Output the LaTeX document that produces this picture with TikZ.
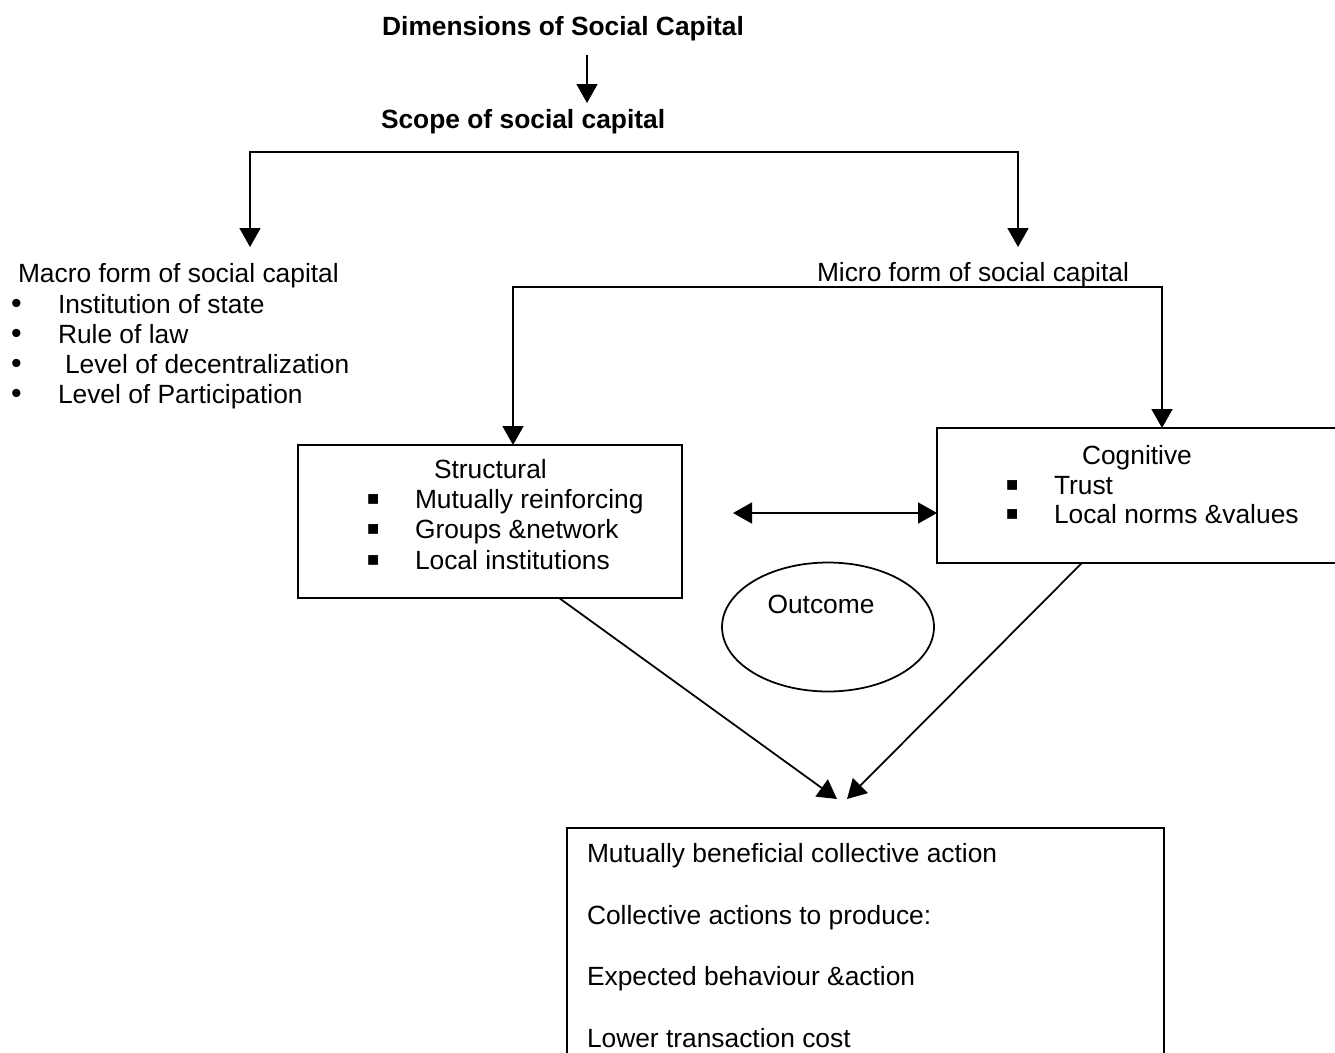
\documentclass[tikz,border=0pt]{standalone}
\usepackage{fontspec}
\setmainfont{Liberation Sans}
\usepackage{tikz}
\usetikzlibrary{arrows.meta,shapes.geometric,calc}

\newcommand{\sqbul}{\raisebox{0.06cm}{\fontsize{11.5}{12}\selectfont ■}}
\newcommand{\rdbul}{\smash{\scalebox{1.15}{•}}}

\begin{document}
\begin{tikzpicture}[x=0.02cm, y=-0.02cm,
  every node/.style={inner sep=0pt, outer sep=0pt, font=\fontsize{15}{18}\selectfont},
  txt/.style={anchor=base west},
  box/.style={draw, line width=1pt, anchor=north west},
  conn/.style={line width=1pt},
  arr/.style={conn, -{Triangle[length=0.38cm,width=0.42cm]}},
  dbl/.style={conn, {Triangle[length=0.38cm,width=0.42cm]}-{Triangle[length=0.38cm,width=0.42cm]}}]

\useasboundingbox (0,0) rectangle (1335,1052);
\clip (0,0) rectangle (1335,1052);

  % Title (top)
  \node[anchor=base, font=\fontsize{15}{18}\selectfont\bfseries] (title) at (563,35) {Dimensions of Social Capital};
  \node[txt, font=\fontsize{15}{18}\selectfont\bfseries] (scope) at (381,128) {Scope of social capital};
  \coordinate (titleA) at (587,55);
  \coordinate (titleB) at (587,103);
  \draw[arr] (titleA) -- (titleB);

  % Scope split
  \coordinate (splitL) at (250,152);
  \coordinate (splitR) at (1018,152);
  \draw[dbl] (splitL |- 0,247) -- (splitL) -- (splitR) -- (splitR |- 0,247);

  % Macro form (left)
  \node[txt] (macro) at (18,282) {Macro form of social capital};
  \node[txt] (macroB1) at (11,313) {\rdbul};
  \node[txt] (macroB2) at (11,343) {\rdbul};
  \node[txt] (macroB3) at (11,373) {\rdbul};
  \node[txt] (macroB4) at (11,403) {\rdbul};
  \node[txt] (macroI1) at (58,313) {Institution of state};
  \node[txt] (macroI2) at (58,343) {Rule of law};
  \node[txt] (macroI3) at (65,373) {Level of decentralization};
  \node[txt] (macroI4) at (58,403) {Level of Participation};

  % Micro form (right)
  \node[txt] (micro) at (817,281) {Micro form of social capital};

  % Structural (middle left)
  \node[box, minimum width=7.68cm, minimum height=3.06cm] (struct) at (298,445) {};
  \node[txt] (structT) at (434,478) {Structural};
  \node[txt] (structB1) at (367,508) {\sqbul};
  \node[txt] (structB2) at (367,538) {\sqbul};
  \node[txt] (structB3) at (367,569) {\sqbul};
  \node[txt] (structI1) at (415,508) {Mutually reinforcing};
  \node[txt] (structI2) at (415,538) {Groups \&network};
  \node[txt] (structI3) at (415,569) {Local institutions};

  % Cognitive (middle right)
  \node[box, minimum width=9.26cm, minimum height=2.7cm] (cogn) at (937,428) {};
  \node[txt] (cognT) at (1082,464) {Cognitive};
  \node[txt] (cognB1) at (1006,494) {\sqbul};
  \node[txt] (cognB2) at (1006,523) {\sqbul};
  \node[txt] (cognI1) at (1054,494) {Trust};
  \node[txt] (cognI2) at (1054,523) {Local norms \&values};

  \coordinate (microL) at (513,287);
  \coordinate (microR) at (1162,287);
  \draw[dbl] (struct.north -| microL) -- (microL) -- (microR) -- (cogn.north -| microR);

  \coordinate (linkL) at (733,513);
  \draw[dbl] (linkL) -- (linkL -| cogn.west);

  % Outcome
  \node[draw, ellipse, line width=1pt, minimum width=4.24cm, minimum height=2.58cm] (outcome) at (828,627) {};
  \node[anchor=base] (outcomeT) at (821,613) {Outcome};

  % Result (bottom)
  \node[box, minimum width=11.94cm, minimum height=5.5cm] (result) at (567,828) {};
  \node[txt] (resultI1) at (587,862) {Mutually beneficial collective action};
  \node[txt] (resultI2) at (587,924) {Collective actions to produce:};
  \node[txt] (resultI3) at (587,985) {Expected behaviour \&action};
  \node[txt] (resultI4) at (587,1047) {Lower transaction cost};

  \coordinate (tipL) at (837,799);
  \coordinate (tipR) at (847,799);
  \draw[arr] ($(struct.south west)!0.68!(struct.south east)$) -- (tipL);
  \draw[arr] ($(cogn.south west)!0.313!(cogn.south east)$) -- (tipR);

\end{tikzpicture}
\end{document}
